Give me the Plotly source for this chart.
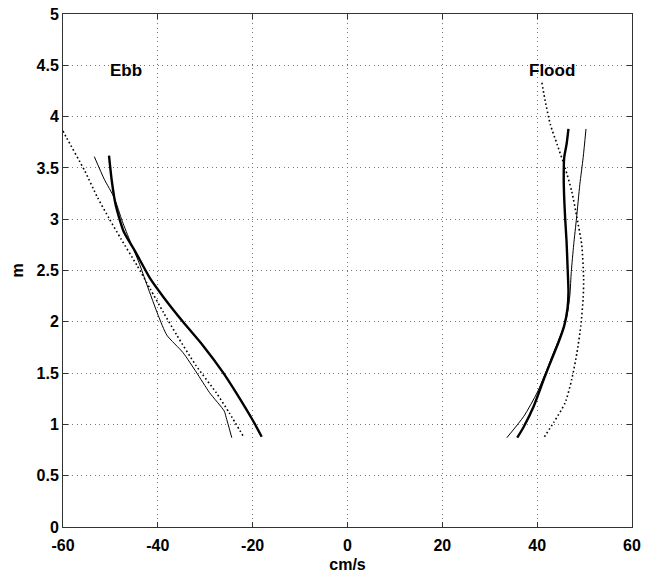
import plotly.graph_objects as go

# Ebb profiles (cm/s, m)
ebb_thick_x = [-50.3, -49.7, -48.9, -47.2, -44.7, -41.6, -38.8, -34.7, -30.5, -26.3, -23.5, -20.1, -18.1]
ebb_thick_y = [3.62, 3.37, 3.14, 2.88, 2.68, 2.42, 2.24, 2.0, 1.77, 1.51, 1.31, 1.05, 0.88]

ebb_thin_x = [-53.4, -51.3, -49.2, -47.5, -45.8, -44.0, -42.3, -39.9, -38.1, -34.7, -31.9, -29.1, -26.0, -25.6, -24.4]
ebb_thin_y = [3.61, 3.39, 3.21, 2.98, 2.78, 2.58, 2.36, 2.06, 1.87, 1.70, 1.51, 1.31, 1.13, 1.07, 0.87]

ebb_dot_x = [-60.0, -59.2, -55.4, -52.7, -50.3, -47.8, -44.4, -41.6, -38.8, -36.0, -31.9, -27.7, -24.9, -21.8]
ebb_dot_y = [3.86, 3.79, 3.47, 3.21, 3.01, 2.81, 2.55, 2.32, 2.09, 1.87, 1.57, 1.31, 1.11, 0.87]

# Flood profiles
fl_thick_x = [46.6, 46.2, 45.7, 45.6, 45.7, 45.9, 46.2, 46.4, 46.6, 46.4, 45.7, 44.5, 43.1, 41.4, 39.3, 37.2, 35.8]
fl_thick_y = [3.88, 3.73, 3.60, 3.40, 3.21, 3.01, 2.78, 2.55, 2.29, 2.13, 1.96, 1.80, 1.64, 1.44, 1.18, 0.98, 0.87]

fl_thin_x = [50.3, 49.7, 49.0, 48.3, 47.7, 47.2, 46.9, 46.3, 45.2, 43.8, 42.1, 40.0, 37.2, 33.6]
fl_thin_y = [3.88, 3.60, 3.34, 3.01, 2.75, 2.49, 2.26, 2.06, 1.90, 1.74, 1.54, 1.31, 1.08, 0.87]

fl_dot_x = [41.0, 41.7, 42.8, 44.2, 45.9, 47.3, 48.4, 49.4, 49.8, 49.7, 49.2, 48.4, 47.3, 45.9, 43.5, 41.4]
fl_dot_y = [4.33, 4.15, 3.92, 3.73, 3.50, 3.27, 3.01, 2.75, 2.42, 2.23, 1.96, 1.70, 1.44, 1.21, 1.02, 0.87]

x_ticks = [-60, -40, -20, 0, 20, 40, 60]
y_ticks = [0, 0.5, 1, 1.5, 2, 2.5, 3, 3.5, 4, 4.5, 5]
y_tick_text = ["0", "0.5", "1", "1.5", "2", "2.5", "3", "3.5", "4", "4.5", "5"]

FONT = "Liberation Sans"
fig = go.Figure()

def add(x, y, width, dash):
    fig.add_trace(go.Scatter(x=x, y=y, mode="lines", line=dict(color="black", width=width, dash=dash,
                                                              shape="spline", smoothing=0.6),
                             showlegend=False, hoverinfo="skip"))

add(ebb_thin_x, ebb_thin_y, 1, "solid")
add(ebb_dot_x, ebb_dot_y, 1.6, "1.6px,2.6px")
add(ebb_thick_x, ebb_thick_y, 2.4, "solid")
add(fl_thin_x, fl_thin_y, 1, "solid")
add(fl_dot_x, fl_dot_y, 1.6, "1.6px,2.6px")
add(fl_thick_x, fl_thick_y, 2.4, "solid")

fig.add_annotation(x=-46.8, y=4.45, text="Ebb", showarrow=False,
                   font=dict(family=FONT, size=17, color="black", weight="bold"))
fig.add_annotation(x=43.2, y=4.45, text="Flood", showarrow=False,
                   font=dict(family=FONT, size=17, color="black", weight="bold"))

axis_common = dict(showline=True, linecolor="#333", linewidth=1, mirror="ticks",
                   ticks="inside", ticklen=5, tickcolor="#333",
                   showgrid=True, gridcolor="#777", gridwidth=1, griddash="1px,3.5px",
                   zeroline=False, automargin=False,
                   tickfont=dict(family=FONT, size=16, color="black", weight="bold"))

fig.update_xaxes(range=[-60, 60], tickvals=x_ticks, ticktext=[str(t) for t in x_ticks],
                 ticklabelstandoff=4,
                 title=dict(text="cm/s", standoff=6,
                            font=dict(family=FONT, size=16, color="black", weight="bold")),
                 **axis_common)
fig.update_yaxes(range=[0, 5], tickvals=y_ticks, ticktext=y_tick_text,
                 title=dict(text="m", standoff=8,
                            font=dict(family=FONT, size=16, color="black", weight="bold")),
                 **axis_common)

fig.update_layout(width=647, height=573, margin=dict(l=63, r=15, t=14, b=46),
                  plot_bgcolor="white", paper_bgcolor="white",
                  font=dict(family=FONT, size=16, color="black"))

fig.write_html("out.html")
